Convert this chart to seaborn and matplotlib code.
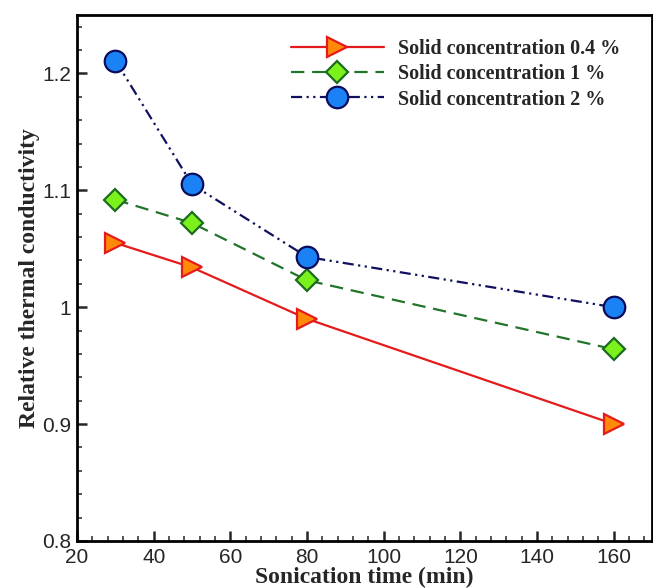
import numpy as np
import pandas as pd
import matplotlib
matplotlib.use("Agg")
import matplotlib.pyplot as plt
import seaborn as sns
from matplotlib.ticker import MultipleLocator

# Data
time_min = [30, 50, 80, 160]
conc_04 = [1.055, 1.034, 0.990, 0.900]
conc_1 = [1.092, 1.072, 1.023, 0.964]
conc_2 = [1.211, 1.105, 1.043, 1.000]
labels = ["Solid concentration 0.4 %", "Solid concentration 1 %", "Solid concentration 2 %"]

sns.set_theme(style="white")
plt.rcParams["font.family"] = ["Liberation Sans", "DejaVu Sans"]

fig = plt.figure(figsize=(6.53, 5.88), dpi=100)
ax = fig.add_axes([0.118, 0.08, 0.8805, 0.8945])

styles = [
    dict(color="#e51b1b", marker=">", markerfacecolor="#ff8a0a", markeredgecolor="#e51b1b",
         markersize=14, linestyle="-"),
    dict(color="#22742a", marker="D", markerfacecolor="#7cf21c", markeredgecolor="#1d6a22",
         markersize=11.5, dashes=(6, 3.5)),
    dict(color="#101060", marker="o", markerfacecolor="#1a82f5", markeredgecolor="#0c0c5a",
         markersize=15.5, dashes=(5, 2, 1, 2, 1, 2)),
]

for vals, lab, st in zip([conc_04, conc_1, conc_2], labels, styles):
    df = pd.DataFrame({"t": time_min, "k": vals})
    sns.lineplot(data=df, x="t", y="k", ax=ax, label=lab, linewidth=1.6,
                 markeredgewidth=1.6, **st)

ax.set_xlim(20, 170)
ax.set_ylim(0.8, 1.25)
ax.xaxis.set_major_locator(MultipleLocator(20))
ax.xaxis.set_minor_locator(MultipleLocator(4))
ax.yaxis.set_minor_locator(MultipleLocator(0.02))
ax.set_yticks([0.8, 0.9, 1.0, 1.1, 1.2])
ax.set_yticklabels(["0.8", "0.9", "1", "1.1", "1.2"])
ax.tick_params(which="major", direction="in", length=7, width=1.8, labelsize=15,
               bottom=True, left=True)
ax.tick_params(axis="x", which="major", pad=5)
ax.tick_params(axis="y", which="major", pad=4)
ax.tick_params(which="minor", direction="in", length=3.5, width=1.1, bottom=True, left=True)

for sp in ax.spines.values():
    sp.set_color("black")
    sp.set_linewidth(2)

ax.set_xlabel("Sonication time (min)", family=["Liberation Serif"], fontweight="bold",
              fontsize=17, labelpad=0)
ax.set_ylabel("Relative thermal conductivity", family=["Liberation Serif"], fontweight="bold",
              fontsize=17, labelpad=2)

leg = ax.legend(loc="upper right", bbox_to_anchor=(0.976, 0.988), frameon=False,
                handlelength=4.6,
                prop={"family": "Liberation Serif", "weight": "bold", "size": 14.5},
                borderaxespad=0.5, labelspacing=0.25, handletextpad=0.7)

fig.savefig("out.png", dpi=100)
